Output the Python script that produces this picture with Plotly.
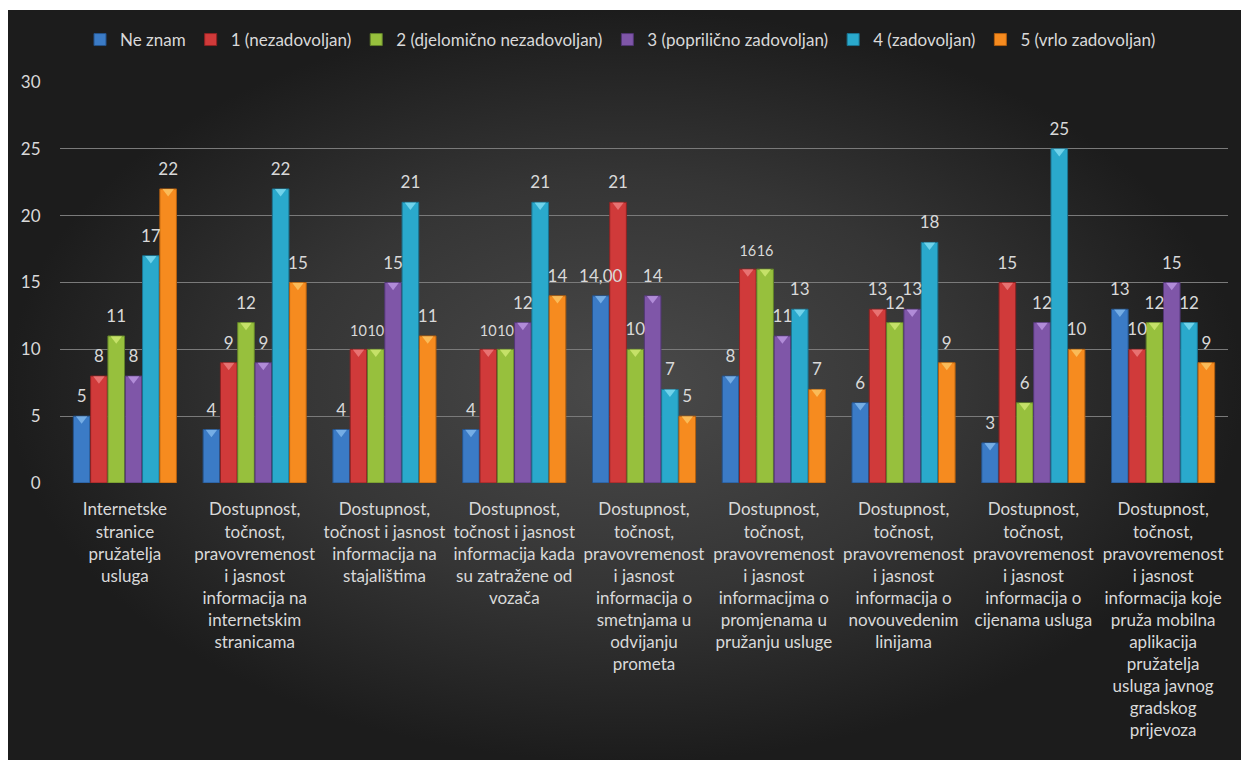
import plotly.graph_objects as go

# Survey categories (x axis)
categories = [
    "Internetske<br>stranice<br>pružatelja<br>usluga",
    "Dostupnost,<br>točnost,<br>pravovremenost<br>i jasnost<br>informacija na<br>internetskim<br>stranicama",
    "Dostupnost,<br>točnost i jasnost<br>informacija na<br>stajalištima",
    "Dostupnost,<br>točnost i jasnost<br>informacija kada<br>su zatražene od<br>vozača",
    "Dostupnost,<br>točnost,<br>pravovremenost<br>i jasnost<br>informacija o<br>smetnjama u<br>odvijanju<br>prometa",
    "Dostupnost,<br>točnost,<br>pravovremenost<br>i jasnost<br>informacijma o<br>promjenama u<br>pružanju usluge",
    "Dostupnost,<br>točnost,<br>pravovremenost<br>i jasnost<br>informacija o<br>novouvedenim<br>linijama",
    "Dostupnost,<br>točnost,<br>pravovremenost<br>i jasnost<br>informacija o<br>cijenama usluga",
    "Dostupnost,<br>točnost,<br>pravovremenost<br>i jasnost<br>informacija koje<br>pruža mobilna<br>aplikacija<br>pružatelja<br>usluga javnog<br>gradskog<br>prijevoza",
]

# Number of answers per rating
ne_znam = [5, 4, 4, 4, 14, 8, 6, 3, 13]
ocjena_1 = [8, 9, 10, 10, 21, 16, 13, 15, 10]
ocjena_2 = [11, 12, 10, 10, 10, 16, 12, 6, 12]
ocjena_3 = [8, 9, 15, 12, 14, 11, 13, 12, 15]
ocjena_4 = [17, 22, 21, 21, 7, 13, 18, 25, 12]
ocjena_5 = [22, 15, 11, 14, 5, 7, 9, 10, 9]

series_names = [
    "Ne znam",
    "1 (nezadovoljan)",
    "2 (djelomično nezadovoljan)",
    "3 (poprilično zadovoljan)",
    "4 (zadovoljan)",
    "5 (vrlo zadovoljan)",
]
series_values = [ne_znam, ocjena_1, ocjena_2, ocjena_3, ocjena_4, ocjena_5]
series_colors = ["#3b7bc6", "#d03a3a", "#97c03d", "#7f56a8", "#2aa9cc", "#f68b1f"]
series_edges = ["#24528a", "#8e2222", "#62822a", "#523775", "#1b7390", "#b35f0f"]
series_bevels = ["#8fc3f2", "#f28a8a", "#d8f07a", "#c6a2ec", "#8fe6f8", "#fcd070"]

# one label in the source is printed with two decimals
two_decimal_labels = {(0, 4)}

W, H = 1241, 760
FONT = "Lato, sans-serif"
TEXT = "#d9d9d9"
LABEL_SIZE = 17
TIGHT_LABEL_SIZE = 14.5  # equal neighbouring two-digit values share little room

fig = go.Figure()

# dark radial-gradient panel behind the chart (pixel-space helper axes)
fig.add_trace(go.Scatter(
    x=[8, W + 2, W + 2, 8, 8], y=[10, 10, H + 2, H + 2, 10],
    xaxis="x", yaxis="y", mode="lines", line=dict(width=0),
    fill="toself",
    fillgradient=dict(type="radial", colorscale=[[0, "#4a4a4a"], [0.55, "#353535"], [1, "#1c1c1c"]]),
    hoverinfo="skip", showlegend=False,
))

for i, (name, vals, col, edge) in enumerate(zip(series_names, series_values, series_colors, series_edges)):
    fig.add_trace(go.Bar(
        x=categories, y=vals, name=name,
        xaxis="x2", yaxis="y2", offsetgroup=str(i),
        marker=dict(color=col, line=dict(color=edge, width=1)),
        hoverinfo="x+y",
    ))


def label_size(i, j):
    v = series_values[i][j]
    if v < 10:
        return LABEL_SIZE
    for k in (i - 1, i + 1):
        if 0 <= k < len(series_values) and series_values[k][j] == v:
            return TIGHT_LABEL_SIZE
    return LABEL_SIZE


# bevel highlight at the top of every bar, and the value labels above it
for i, (vals, bev) in enumerate(zip(series_values, series_bevels)):
    fig.add_trace(go.Scatter(
        x=categories, y=[v - 0.2 for v in vals],
        xaxis="x2", yaxis="y2", offsetgroup=str(i),
        mode="markers", cliponaxis=False,
        marker=dict(symbol="triangle-down", size=10, color=bev, opacity=0.7, line=dict(width=0)),
        hoverinfo="skip", showlegend=False,
    ))
    labels = []
    for j, v in enumerate(vals):
        if (i, j) in two_decimal_labels:
            labels.append(f"{v:.2f}".replace(".", ","))
        else:
            labels.append(f"{v}")
    fig.add_trace(go.Scatter(
        x=categories, y=vals, text=labels,
        xaxis="x2", yaxis="y2", offsetgroup=str(i),
        mode="markers+text", textposition="top center", cliponaxis=False,
        marker=dict(size=14, opacity=0),
        textfont=dict(family=FONT, size=[label_size(i, j) for j in range(len(vals))], color=TEXT),
        hoverinfo="skip", showlegend=False,
    ))

y0_px, y30_px = 483, 82
fig.update_layout(
    template="none",
    width=W, height=H,
    margin=dict(l=0, r=0, t=0, b=0, autoexpand=False),
    paper_bgcolor="white", plot_bgcolor="rgba(0,0,0,0)",
    font=dict(family=FONT, size=17, color=TEXT),
    barmode="group", bargap=0.2, bargroupgap=0.04,
    scattermode="group", scattergap=0.2,
    xaxis=dict(domain=[0, 1], range=[0, W], visible=False, fixedrange=True, automargin=False),
    yaxis=dict(domain=[0, 1], range=[H, 0], visible=False, fixedrange=True, automargin=False),
    xaxis2=dict(
        domain=[60 / W, 1228 / W], anchor="y2", automargin=False,
        showgrid=False, showline=False, zeroline=False,
        tickfont=dict(family=FONT, size=17, color=TEXT),
        ticks="outside", ticklen=11, tickcolor="rgba(0,0,0,0)",
        tickangle=0,
    ),
    yaxis2=dict(
        domain=[(H - y0_px) / H, (H - y30_px) / H], anchor="x2", automargin=False,
        range=[0, 30], dtick=5,
        showgrid=True, gridcolor="#7a7a7a", gridwidth=1.2,
        zeroline=False, showline=False,
        tickfont=dict(family=FONT, size=17, color=TEXT),
        ticks="outside", ticklen=15, tickcolor="rgba(0,0,0,0)",
    ),
    legend=dict(
        orientation="h", x=0.5, xanchor="center", y=(H - 40) / H, yanchor="middle",
        font=dict(family=FONT, size=17, color=TEXT),
        bgcolor="rgba(0,0,0,0)", itemwidth=30,
    ),
)

fig.write_html("out.html")
